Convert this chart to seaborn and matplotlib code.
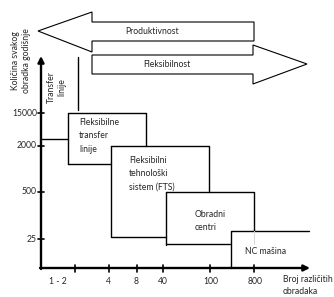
import matplotlib
matplotlib.use("Agg")
import matplotlib.pyplot as plt
from matplotlib.patches import Polygon
import numpy as np
import pandas as pd
import seaborn as sns

# ---- data (texts / categories) ----
x_labels = ["1 - 2", "4", "8", "40", "100", "800"]
y_labels = ["15000", "2000", "500", "25"]
regions = ["Fleksibilne\ntransfer\nlinije",
           "Fleksibilni\ntehnološki\nsistem (FTS)",
           "Obradni\ncentri",
           "NC mašina"]
top_label = "Transfer\nlinije"
arrow_left_label = "Produktivnost"
arrow_right_label = "Fleksibilnost"
y_title = "Količina svakog\nobradka godišnje"
x_title = "Broj različitih\nobradaka"

# ---- layout (pixel canvas) ----
W, H = 334, 297
ox, oy = 41, 268             # axis origin
x_tick_px = [75, 109, 137, 163, 210, 254]
x_lab_px = [58, 108, 136, 163, 211, 255]
y_tick_px = [113, 146, 192, 239]

sns.set_theme(style="white")
plt.rcParams['font.family'] = ['Lato', 'DejaVu Sans']
FS = 6.2

fig = plt.figure(figsize=(W / 100, H / 100), dpi=100)
ax = fig.add_axes([0, 0, 1, 1])
ax.set_xlim(0, W)
ax.set_ylim(H, 0)
ax.axis("off")

# region outlines as polylines
segments = [
    [(78, 57), (78, 110)],
    [(ox, 139), (68, 139)],
    [(68, 164), (68, 113), (146, 113), (146, 146)],
    [(68, 164), (111, 164)],
    [(111, 146), (209, 146), (209, 192)],
    [(111, 146), (111, 237), (166, 237)],
    [(166, 192), (254, 192), (254, 231)],
    [(166, 192), (166, 245)],
    [(166, 244), (230, 244)],
    [(231, oy), (231, 231), (309, 231)],
]
rows = []
for i, seg in enumerate(segments):
    for j, (x, y) in enumerate(seg):
        rows.append(dict(seg=i, order=j, x=x, y=y))
df = pd.DataFrame(rows)
sns.lineplot(data=df, x="x", y="y", units="seg", estimator=None, sort=False,
             color="black", lw=1.0, ax=ax, legend=False)
ax.plot([254, 254], [231, 244], color="#d9d9d9", lw=0.8)
ax.set_xlim(0, W)
ax.set_ylim(H, 0)
ax.axis("off")

# axes with arrows
ax.annotate("", xy=(ox, 56), xytext=(ox, oy + 1),
            arrowprops=dict(arrowstyle="-|>", lw=1.7, color="black", mutation_scale=9,
                            shrinkA=0, shrinkB=0))
ax.annotate("", xy=(310, oy), xytext=(ox - 1, oy),
            arrowprops=dict(arrowstyle="-|>", lw=1.7, color="black", mutation_scale=9,
                            shrinkA=0, shrinkB=0))
for xp in x_tick_px:
    ax.plot([xp, xp], [oy - 3.5, oy + 3.5], color="black", lw=1.2)
for yp in y_tick_px:
    ax.plot([ox - 3, ox + 3], [yp, yp], color="black", lw=1.2)

for lab, xp in zip(x_labels, x_lab_px):
    ax.text(xp, 281, lab, ha="center", va="center", fontsize=FS)
for lab, yp in zip(y_labels, y_tick_px):
    ax.text(37, yp, lab, ha="right", va="center", fontsize=FS)

# big arrows
left_arrow = [(254, 22), (92, 22), (92, 12), (38, 31), (92, 52), (92, 41), (254, 41)]
right_arrow = [(92, 55), (253, 55), (253, 45), (307, 64), (253, 84), (253, 74), (92, 74)]
for pts in (left_arrow, right_arrow):
    ax.add_patch(Polygon(pts, closed=True, facecolor="white", edgecolor="black", lw=0.8))
ax.text(125, 32, arrow_left_label, ha="left", va="center", fontsize=FS)
ax.text(143, 64.5, arrow_right_label, ha="left", va="center", fontsize=FS)

# texts
ax.text(21, 61, y_title, rotation=90, ha="center", va="center", fontsize=FS,
        linespacing=1.2)
ax.text(57, 87, top_label, rotation=90, ha="center", va="center", fontsize=FS,
        linespacing=1.2)
ax.text(79, 136, regions[0], ha="left", va="center", fontsize=FS, linespacing=1.6)
ax.text(129, 174, regions[1], ha="left", va="center", fontsize=FS, linespacing=1.6)
ax.text(195, 221, regions[2], ha="left", va="center", fontsize=FS, linespacing=1.6)
ax.text(245, 251, regions[3], ha="left", va="center", fontsize=FS)
ax.text(283, 285.5, x_title, ha="left", va="center", fontsize=FS, linespacing=1.55)

fig.savefig("out.png", dpi=100)
